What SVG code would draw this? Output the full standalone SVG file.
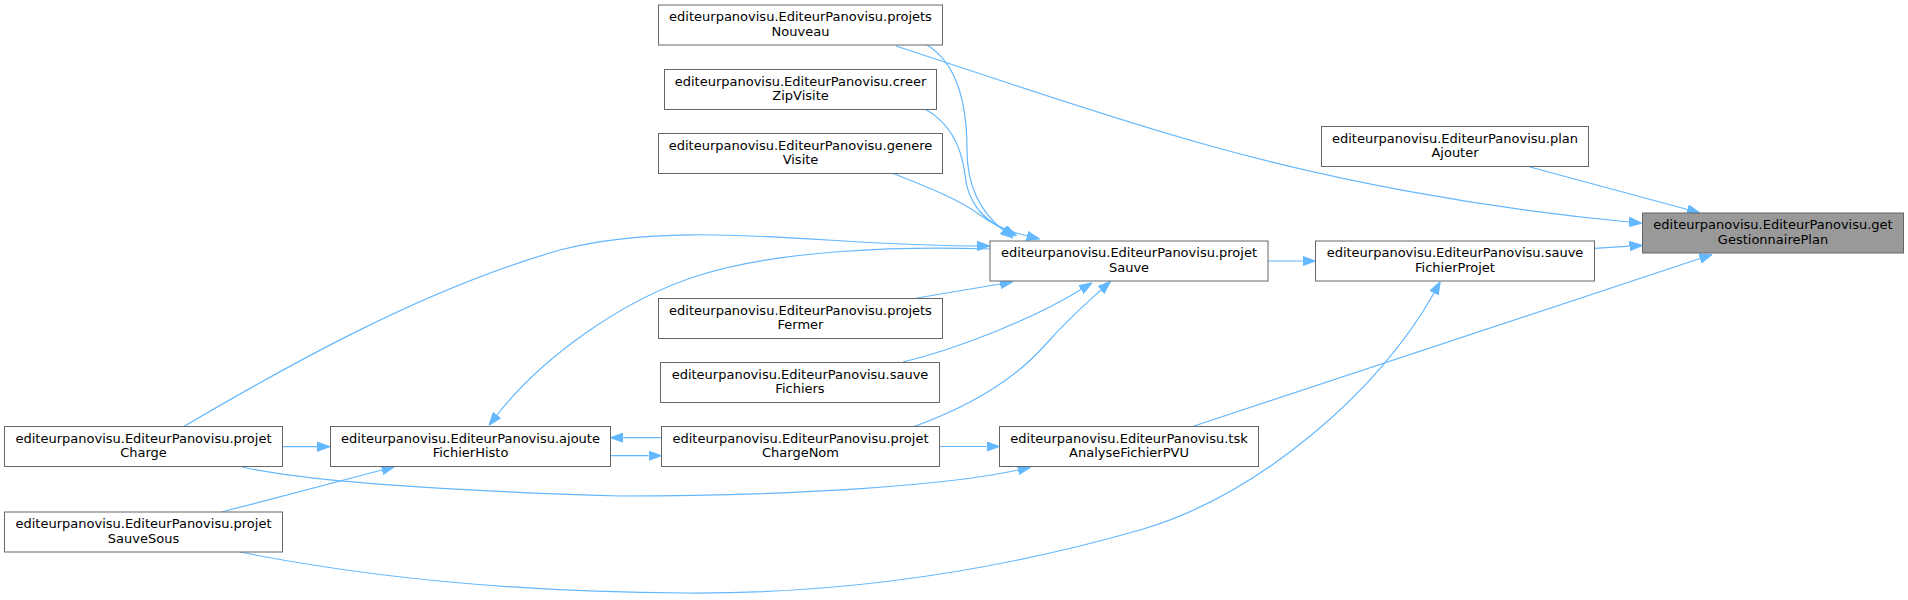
<svg xmlns="http://www.w3.org/2000/svg" width="1908" height="600" viewBox="0 0 1908 600">
<style>
.n rect{fill:#ffffff;stroke:#666666;stroke-width:1}
.n.hl rect{fill:#999999}
.n text{font-family:"DejaVu Sans","Liberation Sans",sans-serif;font-size:13px;fill:#000000;text-anchor:middle}
.e path{fill:none;stroke:#63b8ff;stroke-width:1.2;marker-end:url(#ah)}
</style>
<defs>
<marker id="ah" viewBox="0 0 13 10" refX="0" refY="5" markerWidth="13" markerHeight="10" markerUnits="userSpaceOnUse" orient="auto">
<path d="M0,0.3 L13,5 L0,9.7 z" fill="#63b8ff" stroke="#63b8ff" stroke-width="1"/>
</marker>
</defs>
<rect width="1908" height="600" fill="#ffffff"/>
<g id="edges" class="e">
<path d="M896,46 C1000,80 1100,115 1200,143 C1330,180 1480,208 1629,222"/>
<path d="M1530,167 L1687.5,209.5"/>
<path d="M1595,248.3 L1629.5,246.2"/>
<path d="M1191,427 L1700,258.5"/>
<path d="M1267.7,261 L1302.5,261"/>
<path d="M240,552 C330,570 480,592 687,593 C850,594 1000,570 1140,530 C1260,495 1380,390 1434,293"/>
<path d="M927,45 C955,62 967,100 967,150 C967,195 988,218 1003,230"/>
<path d="M925,109 C952,124 962,150 965,175 C968,205 985,220 1005,230"/>
<path d="M892,173 C930,188 960,200 980,215 C995,226 1010,232 1027,236"/>
<path d="M183,427 C280,370 420,290 560,250 C650,226 760,236 860,242 C920,245 955,246 977,246"/>
<path d="M990,249 C900,246 780,250 700,275 C620,300 540,360 497,415"/>
<path d="M917,298 L1000.2,284"/>
<path d="M903,362 C960,348 1035,318 1081,289.5"/>
<path d="M913,427 C960,410 1010,385 1045,345 C1070,317 1090,300 1101,290"/>
<path d="M939.5,446.5 L986.5,446.5"/>
<path d="M661.5,437.7 L623.3,437.7"/>
<path d="M610.3,455.7 L648.5,455.7"/>
<path d="M282.7,446.7 L317,446.7"/>
<path d="M221.7,512 L382,470"/>
<path d="M242,467 C300,480 420,490 620,496 C800,496 950,485 1018,470"/>
</g>
<g id="n_getGestionnairePlan" class="n hl"><rect x="1642.5" y="213" width="261" height="40"/><text x="1773" y="229">editeurpanovisu.EditeurPanovisu.get</text><text x="1773" y="243.5">GestionnairePlan</text></g>
<g id="n_planAjouter" class="n"><rect x="1321.5" y="126.5" width="267" height="40"/><text x="1455" y="142.5">editeurpanovisu.EditeurPanovisu.plan</text><text x="1455" y="157">Ajouter</text></g>
<g id="n_sauveFichierProjet" class="n"><rect x="1315.5" y="241" width="279" height="40"/><text x="1455" y="257">editeurpanovisu.EditeurPanovisu.sauve</text><text x="1455" y="271.5">FichierProjet</text></g>
<g id="n_projetSauve" class="n"><rect x="990" y="241" width="278" height="40"/><text x="1129" y="257">editeurpanovisu.EditeurPanovisu.projet</text><text x="1129" y="271.5">Sauve</text></g>
<g id="n_tskAnalyseFichierPVU" class="n"><rect x="999.5" y="426.5" width="259" height="40"/><text x="1129" y="442.5">editeurpanovisu.EditeurPanovisu.tsk</text><text x="1129" y="457">AnalyseFichierPVU</text></g>
<g id="n_projetsNouveau" class="n"><rect x="658.5" y="5" width="284" height="40"/><text x="800.5" y="21">editeurpanovisu.EditeurPanovisu.projets</text><text x="800.5" y="35.5">Nouveau</text></g>
<g id="n_creerZipVisite" class="n"><rect x="664.5" y="69.5" width="272" height="40"/><text x="800.5" y="85.5">editeurpanovisu.EditeurPanovisu.creer</text><text x="800.5" y="100">ZipVisite</text></g>
<g id="n_genereVisite" class="n"><rect x="658.5" y="133.5" width="284" height="40"/><text x="800.5" y="149.5">editeurpanovisu.EditeurPanovisu.genere</text><text x="800.5" y="164">Visite</text></g>
<g id="n_projetsFermer" class="n"><rect x="658.5" y="298.5" width="284" height="40"/><text x="800.5" y="314.5">editeurpanovisu.EditeurPanovisu.projets</text><text x="800.5" y="329">Fermer</text></g>
<g id="n_sauveFichiers" class="n"><rect x="660.5" y="362.5" width="279" height="40"/><text x="800" y="378.5">editeurpanovisu.EditeurPanovisu.sauve</text><text x="800" y="393">Fichiers</text></g>
<g id="n_projetChargeNom" class="n"><rect x="661.5" y="426.5" width="278" height="40"/><text x="800.5" y="442.5">editeurpanovisu.EditeurPanovisu.projet</text><text x="800.5" y="457">ChargeNom</text></g>
<g id="n_ajouteFichierHisto" class="n"><rect x="330.5" y="426.5" width="280" height="40"/><text x="470.5" y="442.5">editeurpanovisu.EditeurPanovisu.ajoute</text><text x="470.5" y="457">FichierHisto</text></g>
<g id="n_projetCharge" class="n"><rect x="4.5" y="426.5" width="278" height="40"/><text x="143.5" y="442.5">editeurpanovisu.EditeurPanovisu.projet</text><text x="143.5" y="457">Charge</text></g>
<g id="n_projetSauveSous" class="n"><rect x="4.5" y="512" width="278" height="40"/><text x="143.5" y="528">editeurpanovisu.EditeurPanovisu.projet</text><text x="143.5" y="542.5">SauveSous</text></g>
</svg>
